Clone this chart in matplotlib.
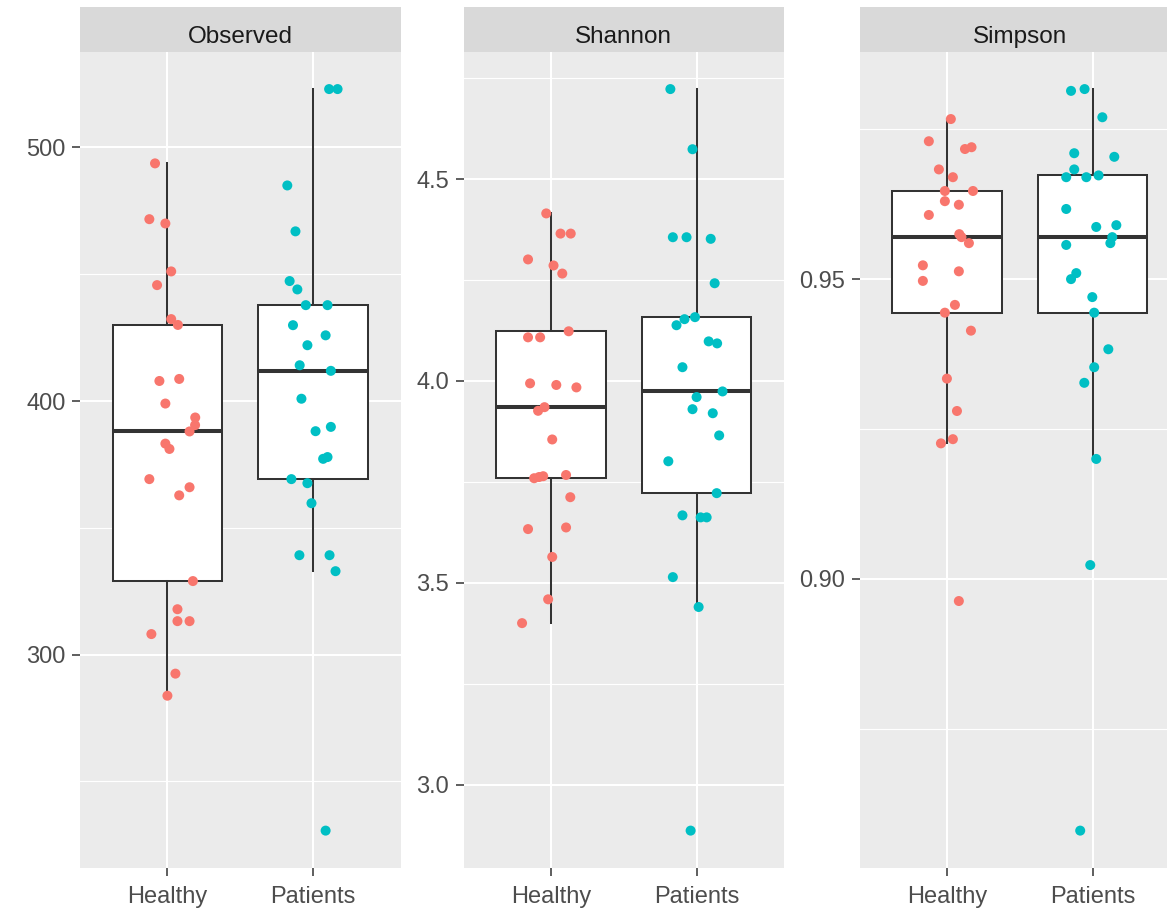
import matplotlib
matplotlib.use("Agg")
import matplotlib.pyplot as plt
import numpy as np

plt.rcParams['font.family'] = ['Liberation Sans', 'DejaVu Sans']

groups = ["Healthy", "Patients"]
metrics = ["Observed", "Shannon", "Simpson"]

# Alpha-diversity values per sample
observed_healthy = [493.7, 471.7, 470.0, 451.1, 445.7, 432.3, 430.0, 408.7, 407.9, 399.0,
                    393.5, 390.5, 388.0, 383.2, 381.1, 369.2, 366.0, 362.8, 329.0, 317.9,
                    313.2, 313.2, 308.1, 292.5, 283.8]
observed_patients = [523.0, 523.0, 485.0, 466.9, 447.3, 444.0, 437.8, 437.8, 429.9, 425.9,
                     422.0, 414.1, 411.9, 400.9, 389.8, 388.1, 377.9, 377.2, 369.2, 367.6,
                     359.7, 339.2, 339.2, 332.9, 230.6]
shannon_healthy = [4.415, 4.365, 4.365, 4.301, 4.286, 4.266, 4.123, 4.108, 4.108, 3.994,
                   3.990, 3.984, 3.935, 3.926, 3.855, 3.767, 3.764, 3.762, 3.759, 3.712,
                   3.637, 3.633, 3.564, 3.459, 3.400]
shannon_patients = [4.723, 4.574, 4.356, 4.356, 4.352, 4.242, 4.158, 4.153, 4.138, 4.098,
                    4.093, 4.034, 3.974, 3.960, 3.930, 3.920, 3.865, 3.801, 3.722, 3.667,
                    3.662, 3.662, 3.514, 3.440, 2.886]
simpson_healthy = [0.9767, 0.9730, 0.9720, 0.9717, 0.9683, 0.9670, 0.9647, 0.9647, 0.9630, 0.9624,
                   0.9607, 0.9575, 0.9570, 0.9560, 0.9523, 0.9513, 0.9497, 0.9457, 0.9444, 0.9414,
                   0.9334, 0.9280, 0.9233, 0.9226, 0.8963]
simpson_patients = [0.9817, 0.9814, 0.9770, 0.9710, 0.9704, 0.9683, 0.9673, 0.9670, 0.9670, 0.9617,
                    0.9590, 0.9587, 0.9570, 0.9560, 0.9557, 0.9510, 0.9500, 0.9470, 0.9444, 0.9383,
                    0.9353, 0.9327, 0.9200, 0.9023, 0.8580]

# Horizontal jitter offsets of the sample points
jitter_observed_healthy = [-0.085, -0.124, -0.014, 0.026, -0.071, 0.026, 0.072, 0.081, -0.055, -0.014,
                           0.191, 0.190, 0.152, -0.014, 0.014, -0.124, 0.152, 0.081, 0.175, 0.069,
                           0.069, 0.152, -0.110, 0.055, 0.0]
jitter_observed_patients = [0.110, 0.168, -0.177, -0.121, -0.161, -0.108, -0.050, 0.099, -0.138, 0.086,
                            -0.039, -0.092, 0.122, -0.080, 0.122, 0.017, 0.099, 0.069, -0.149, -0.039,
                            -0.011, -0.094, 0.113, 0.154, 0.086]
jitter_shannon_healthy = [-0.032, 0.066, 0.136, -0.157, 0.018, 0.078, 0.122, -0.157, -0.074, -0.143,
                          0.037, 0.175, -0.044, -0.088, 0.009, 0.104, -0.053, -0.081, -0.115, 0.133,
                          0.104, -0.157, 0.009, -0.019, -0.198]
jitter_shannon_patients = [-0.180, -0.028, -0.163, -0.069, 0.097, 0.124, -0.011, -0.083, -0.138, 0.083,
                           0.141, -0.097, 0.178, 0.0, -0.028, 0.111, 0.155, -0.194, 0.138, -0.097,
                           0.028, 0.069, -0.163, 0.014, -0.041]
jitter_simpson_healthy = [0.027, -0.124, 0.169, 0.124, -0.055, 0.041, -0.014, 0.179, -0.014, 0.082,
                          -0.124, 0.085, 0.100, 0.151, -0.165, 0.082, -0.165, 0.055, -0.014, 0.165,
                          0.0, 0.069, 0.041, -0.041, 0.082]
jitter_simpson_patients = [-0.055, -0.148, 0.067, -0.126, 0.149, -0.126, 0.041, -0.181, -0.043, -0.181,
                           0.163, 0.025, 0.135, 0.122, -0.181, -0.112, -0.148, -0.002, 0.011, 0.108,
                           0.011, -0.057, 0.025, -0.016, -0.085]

values = {
    "Observed": (observed_healthy, observed_patients),
    "Shannon": (shannon_healthy, shannon_patients),
    "Simpson": (simpson_healthy, simpson_patients),
}
jitters = {
    "Observed": (jitter_observed_healthy, jitter_observed_patients),
    "Shannon": (jitter_shannon_healthy, jitter_shannon_patients),
    "Simpson": (jitter_simpson_healthy, jitter_simpson_patients),
}
major_ticks = {
    "Observed": [300, 400, 500],
    "Shannon": [3.0, 3.5, 4.0, 4.5],
    "Simpson": [0.90, 0.95],
}
minor_ticks = {
    "Observed": [250, 350, 450],
    "Shannon": [3.25, 3.75, 4.25, 4.75],
    "Simpson": [0.875, 0.925, 0.975],
}
tick_fmt = {"Observed": "{:.0f}", "Shannon": "{:.1f}", "Simpson": "{:.2f}"}
group_colors = ["#F8766D", "#00BFC4"]

W, H = 1167, 908
fig = plt.figure(figsize=(W / 100, H / 100), dpi=100)

panel_left = [80.0, 463.5, 859.5]
panel_w = 320.5
panel_top, panel_bottom = 52.0, 867.7
strip_top = 7.0

for i, metric in enumerate(metrics):
    x0 = panel_left[i] / W
    ax = fig.add_axes([x0, 1 - panel_bottom / H, panel_w / W, (panel_bottom - panel_top) / H])
    sax = fig.add_axes([x0, 1 - panel_top / H, panel_w / W, (panel_top - strip_top) / H])

    ax.set_facecolor("#EBEBEB")
    for s in ax.spines.values():
        s.set_visible(False)

    data = values[metric]
    allv = np.concatenate([np.asarray(d) for d in data])
    lo, hi = allv.min(), allv.max()
    r = hi - lo
    ax.set_ylim(lo - 0.05 * r, hi + 0.05 * r)
    ax.set_xlim(0.4, 2.6)

    # grid
    for m in minor_ticks[metric]:
        ax.axhline(m, color="white", lw=0.8, zorder=0.5)
    for m in major_ticks[metric]:
        ax.axhline(m, color="white", lw=1.5, zorder=0.6)
    for xc in (1, 2):
        ax.axvline(xc, color="white", lw=1.5, zorder=0.6)

    bp = ax.boxplot(list(data), positions=[1, 2], widths=0.75, patch_artist=True,
                    showfliers=False, showcaps=False, whis=1.5, zorder=2)
    for b in bp["boxes"]:
        b.set(facecolor="white", edgecolor="#333333", linewidth=1.45)
    for w in bp["whiskers"]:
        w.set(color="#333333", linewidth=1.45)
    for md in bp["medians"]:
        md.set(color="#333333", linewidth=2.9, solid_capstyle="butt")

    for g, (vals, jit) in enumerate(zip(data, jitters[metric])):
        xs = (g + 1) + np.asarray(jit)
        ax.scatter(xs, vals, s=52, color=group_colors[g], edgecolors="none", zorder=3)

    ax.set_yticks(major_ticks[metric])
    ax.set_yticklabels([tick_fmt[metric].format(v) for v in major_ticks[metric]])
    ax.set_xticks([1, 2])
    ax.set_xticklabels(groups)
    ax.tick_params(axis="both", colors="#333333", labelcolor="#4D4D4D",
                   labelsize=17, length=5.5, width=1.1)
    ax.tick_params(axis="y", pad=5)
    ax.tick_params(axis="x", pad=8)

    sax.set_facecolor("#D9D9D9")
    sax.set_xticks([])
    sax.set_yticks([])
    for s in sax.spines.values():
        s.set_visible(False)
    sax.text(0.5, 0.195, metric, ha="center", va="baseline", fontsize=17.5,
             color="#1A1A1A", transform=sax.transAxes)

fig.savefig("out.png", dpi=100, facecolor="white")
